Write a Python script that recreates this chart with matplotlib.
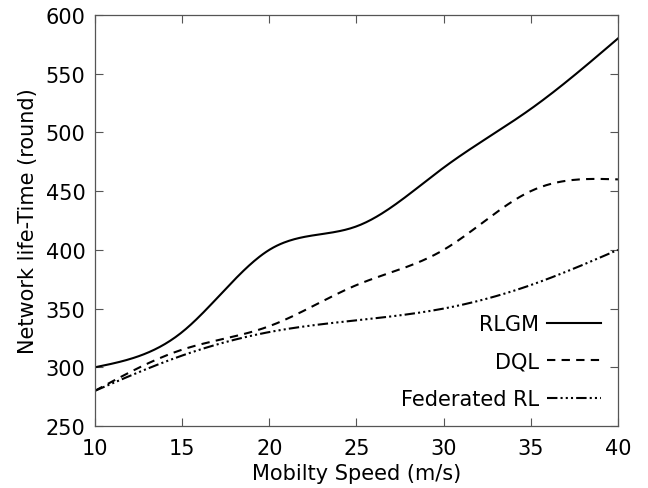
import numpy as np
import matplotlib
matplotlib.use("Agg")
import matplotlib.pyplot as plt

speed = [10, 15, 20, 25, 30, 35, 40]
rlgm = [300, 330, 400, 420, 470, 520, 580]
dql = [280, 315, 335, 370, 400, 450, 460]
fed_rl = [280, 310, 330, 340, 350, 370, 400]


# natural cubic spline through the points, like gnuplot's "smooth csplines"
def csplines(x, y, n=300):
    x = np.asarray(x, float)
    y = np.asarray(y, float)
    k = len(x)
    h = np.diff(x)
    A = np.zeros((k, k))
    b = np.zeros(k)
    A[0, 0] = A[-1, -1] = 1
    for i in range(1, k - 1):
        A[i, i - 1] = h[i - 1]
        A[i, i] = 2 * (h[i - 1] + h[i])
        A[i, i + 1] = h[i]
        b[i] = 6 * ((y[i + 1] - y[i]) / h[i] - (y[i] - y[i - 1]) / h[i - 1])
    m = np.linalg.solve(A, b)
    xs = np.linspace(x[0], x[-1], n)
    j = np.clip(np.searchsorted(x, xs) - 1, 0, k - 2)
    t0 = x[j + 1] - xs
    t1 = xs - x[j]
    hj = h[j]
    ys = (m[j] * t0**3 + m[j + 1] * t1**3) / (6 * hj) \
        + (y[j] / hj - m[j] * hj / 6) * t0 \
        + (y[j + 1] / hj - m[j + 1] * hj / 6) * t1
    return xs, ys


plt.rcParams["font.family"] = "DejaVu Sans"
fs = 15
fig = plt.figure(figsize=(6.48, 4.89), dpi=100)
ax = fig.add_axes([0.1466, 0.1268, 0.807, 0.8405])

ax.plot(*csplines(speed, rlgm), color="black", lw=1.5, label="RLGM")
ax.plot(*csplines(speed, dql), color="black", lw=1.5, ls=(0, (4, 3)), label="DQL")
ax.plot(*csplines(speed, fed_rl), color="black", lw=1.5,
        ls=(0, (5, 1.5, 1, 1.5, 1, 1.5, 1, 1.5)), label="Federated RL")

ax.set_xlim(10, 40)
ax.set_ylim(250, 600)
ax.set_xticks(range(10, 41, 5))
ax.set_yticks(range(250, 601, 50))
ax.tick_params(direction="in", top=True, right=True, length=6, width=0.8,
               labelsize=fs, pad=7, color="#555555")
ax.tick_params(axis="x", pad=9)
for s in ax.spines.values():
    s.set_color("#555555")
    s.set_linewidth(0.9)

ax.set_xlabel("Mobilty Speed (m/s)", fontsize=fs, labelpad=3)
ax.set_ylabel("Network life-Time (round)", fontsize=fs, labelpad=5)

ax.legend(loc="lower right", frameon=False, markerfirst=False, fontsize=fs,
          handlelength=2.6, handletextpad=0.4, labelspacing=0.85,
          borderaxespad=0.4)

fig.savefig("out.png", dpi=100)
